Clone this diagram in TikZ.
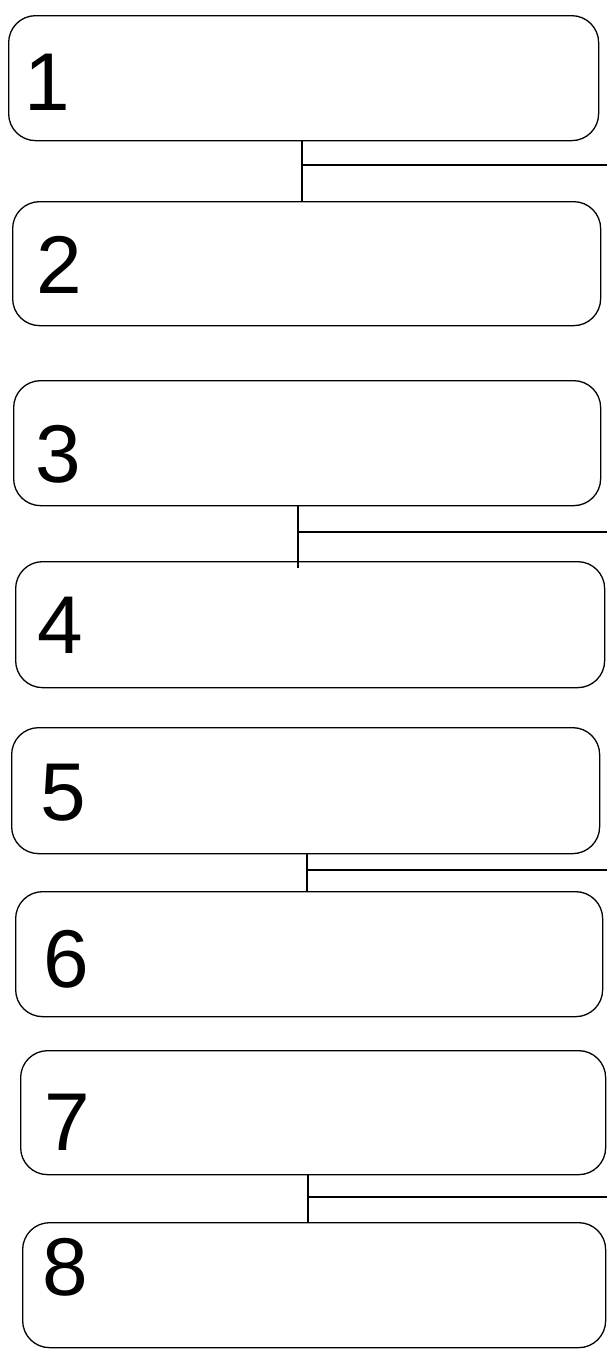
\documentclass[tikz,border=0pt]{standalone}
\usepackage{fontspec}
\setmainfont{Liberation Sans}
\usetikzlibrary{calc}

\begin{document}
\begin{tikzpicture}[x = 1pt, y = -1pt,
  boite/.style = {draw, line width = 1.3pt, rounded corners = 27pt, inner sep = 0pt, anchor = north west},
  chiffre/.style = {font = \fontsize{82}{82}\selectfont, anchor = base west, inner sep = 0pt},
  trait/.style = {line width = 1.4pt}]
  \useasboundingbox (0,0) rectangle (607,1350);

  % Les boites
  \node[boite, minimum width = 590pt, minimum height = 125pt] (b1) at (8,15) {};
  \node[boite, minimum width = 588pt, minimum height = 124pt] (b2) at (12,201) {};
  \node[boite, minimum width = 587pt, minimum height = 125pt] (b3) at (13,380) {};
  \node[boite, minimum width = 589pt, minimum height = 126pt] (b4) at (15,561) {};
  \node[boite, minimum width = 588pt, minimum height = 126pt] (b5) at (11,727) {};
  \node[boite, minimum width = 587pt, minimum height = 125pt] (b6) at (15,891) {};
  \node[boite, minimum width = 585pt, minimum height = 124pt] (b7) at (20,1050) {};
  \node[boite, minimum width = 583pt, minimum height = 125pt] (b8) at (22,1222) {};

  % Les jonctions
  \coordinate (j1) at (302,165);
  \coordinate (j2) at (298,532);
  \coordinate (j3) at (307,870);
  \coordinate (j4) at (308,1197);
  \coordinate (f1) at (607,165);
  \coordinate (f2) at (607,532);
  \coordinate (f3) at (607,870);
  \coordinate (f4) at (607,1197);

  % Les traits
  \draw[trait] (j1 |- b1.south) -- (j1 |- b2.north);
  \draw[trait] (j1) -- (f1);
  \draw[trait] (j2 |- b3.south) -- ($(j2 |- b4.north)+(0,7)$);
  \draw[trait] (j2) -- (f2);
  \draw[trait] (j3 |- b5.south) -- (j3 |- b6.north);
  \draw[trait] (j3) -- (f3);
  \draw[trait] (j4 |- b7.south) -- (j4 |- b8.north);
  \draw[trait] (j4) -- (f4);

  % Les chiffres
  \node[chiffre] (n1) at (24,110) {1};
  \node[chiffre] (n2) at (36.5,293) {2};
  \node[chiffre] (n3) at (35.5,482) {3};
  \node[chiffre] (n4) at (37,653) {4};
  \node[chiffre] (n5) at (40.5,820) {5};
  \node[chiffre] (n6) at (43,987) {6};
  \node[chiffre] (n7) at (44,1150) {7};
  \node[chiffre] (n8) at (42.5,1295) {8};

\end{tikzpicture}
\end{document}
